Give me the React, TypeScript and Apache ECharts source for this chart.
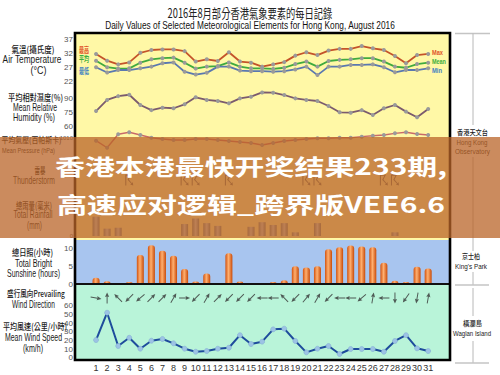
import React, { useEffect, useRef } from "react";
import * as echarts from "echarts";

// ---------------- data ----------------
const days = ["1","2","3","4","5","6","7","8","9","10","11","12","13","14","15","16","17","18","19","20","21","22","23","24","25","26","27","28","29","30","31"];
const tempMax = [31.7,29.3,28.0,28.7,32.1,33.1,33.3,33.3,32.7,29.0,29.8,29.2,32.3,29.0,28.6,27.2,28.0,28.8,31.1,32.3,31.3,32.9,33.5,33.5,34.5,33.7,33.1,31.0,28.4,31.3,31.7];
const tempMean = [29.3,27.0,26.5,26.6,28.6,29.8,30.2,30.4,28.6,26.5,27.2,27.4,28.7,27.2,26.6,26.6,26.4,26.8,28.1,29.0,27.2,29.2,29.6,29.8,30.2,30.2,29.0,27.2,26.8,28.1,28.6];
const tempMin = [27.0,25.1,26.0,26.0,26.6,27.2,28.4,28.7,25.4,24.4,25.0,27.2,27.2,25.8,25.6,25.6,25.4,25.6,26.2,27.2,24.2,27.2,27.2,27.8,27.8,28.0,27.0,25.2,26.0,26.0,26.6];
const humidity = [76,87.9,92,93.5,82.5,77,79.6,79,83.2,90.7,87.9,86.8,84.3,89.6,91.4,96,95.7,93.2,89.6,87.9,86.8,81.4,74.7,74.3,77,71.8,79,82.5,75.4,69.3,78.2];
const pressure = [1008.2,1003.5,1012.5,1013.8,1012,1010.2,1009.3,1008.7,1008.7,1009.3,1009.3,1008.7,1008,1007.3,1006.7,1005.3,1006.7,1008,1008.7,1009.3,1009.8,1009.8,1010.2,1010.2,1010.9,1011.5,1012,1013.1,1013.8,1012.7,1012];
const thunder = [0,0,0,1,0,0,0,0,1,1,0,0,1,0,0,0,0,0,0,1,1,0,0,0,0,0,1,1,0,0,0];
const rainfall = [42,16,18,0,0,0,0,0,26,38,28,22,0,0,20,30,24,28,8,0,28,0,0,0,0,0,0,8,0,0,0];
const sunshine = [1.8,0.8,0,0.6,8.3,11.1,9.5,8.1,4.3,0.7,3.0,0.2,8.8,0.7,0.3,0,0.6,1.1,5.1,4.7,5.1,9.9,10.5,11.0,10.7,10.5,6.1,0.9,0.6,4.9,4.4];
const windDir = [100,0,315,225,230,45,45,30,90,225,30,45,225,225,225,270,270,315,225,40,30,225,270,270,230,10,270,180,215,190,10];
const windSpeed = [20.4,51.9,13.5,23,10.4,19.6,21.6,16.6,10.4,6.9,7.7,10.4,11.5,26,15.8,18.5,32.7,33.5,19.3,6.2,10.4,13.5,4.3,10,10,10,6.9,19.3,26,10.8,7.7];

const title1 = "2016年8月部分香港氣象要素的每日記錄";
const title2 = "Daily Values of Selected Meteorological Elements for Hong Kong, August 2016";
const banner1 = "香港本港最快开奖结果233期,";
const banner2 = "高速应对逻辑_跨界版VEE6.6";

// ---------------- helpers ----------------
const NARROW = "'Liberation Sans Narrow', 'Liberation Sans', Arial, sans-serif";
const SANS = "'Liberation Sans', Arial, sans-serif";
const CJK = "'Noto Sans CJK TC', sans-serif";

let ctx: CanvasRenderingContext2D | null = null;
function measure(text: string, font: string) {
  if (!ctx) ctx = document.createElement("canvas").getContext("2d");
  ctx!.font = font;
  return ctx!.measureText(text).width || 1;
}

function fitText(text: string, cx: number, cy: number, w: number, o: any) {
  const size = o.size || 10;
  const weight = o.weight || "normal";
  const family = o.family || SANS;
  const font = `${weight} ${size}px ${family}`;
  const mw = measure(text, font);
  const align = o.align || "center";
  return {
    type: "text",
    x: cx,
    y: cy,
    scaleX: w / mw,
    z: o.z ?? 10,
    style: {
      text,
      font,
      fill: o.color || "#222",
      textAlign: align,
      textVerticalAlign: "middle",
      ...(o.extra || {}),
    },
  };
}

const GL = 90.5;
const GR = 66.3;

export default function App() {
  const ref = useRef<HTMLDivElement>(null);
  useEffect(() => {
    const chart = echarts.init(ref.current!, null, { renderer: "svg" });

    const grids = [
      { top: 39, height: 42.3 },   // temp
      { top: 98, height: 28 },     // humidity
      { top: 138, height: 30 },    // pressure
      { top: 170, height: 20 },    // thunder
      { top: 190, height: 46 },    // rain
      { top: 240, height: 44 },    // sunshine
      { top: 288, height: 20 },    // wind dir
      { top: 305.7, height: 52 },  // wind speed
    ].map((g) => ({ left: GL, right: GR, top: g.top, height: g.height, containLabel: false }));

    const xAxis = grids.map((_, i) => ({
      type: "category",
      gridIndex: i,
      data: days,
      boundaryGap: true,
      axisLine: { show: false },
      axisTick: { show: false },
      splitLine: { show: false },
      axisLabel: i === 7
        ? { show: true, interval: 0, fontSize: 9, color: "#333", fontFamily: NARROW, margin: 6 }
        : { show: false },
    }));

    const yl = { fontSize: 8, color: "#555", fontFamily: NARROW, margin: 17.5 };
    const yBase = { axisLine: { show: false }, axisTick: { show: false }, splitLine: { show: false } };
    const yAxis: any[] = [
      { ...yBase, type: "value", gridIndex: 0, min: 22, max: 37, interval: 5, axisLabel: yl },
      { ...yBase, type: "value", gridIndex: 1, min: 60, max: 90, interval: 15, axisLabel: yl },
      { ...yBase, type: "value", gridIndex: 2, min: 990, max: 1010, interval: 20,
        axisLabel: { ...yl, fontSize: 6, formatter: (v: number) => (v === 1010 ? "1010" : "") } },
      { ...yBase, type: "value", gridIndex: 3, min: 0, max: 2, show: false },
      { ...yBase, type: "value", gridIndex: 4, min: 0, max: 100, interval: 50,
        axisLabel: { ...yl, fontSize: 6, formatter: (v: number) => (v === 0 ? "0" : "") } },
      { ...yBase, type: "value", gridIndex: 5, min: 0, max: 12.57, interval: 5,
        axisLabel: { ...yl, showMaxLabel: false } },
      { ...yBase, type: "value", gridIndex: 6, min: 0, max: 2, show: false },
      { ...yBase, type: "value", gridIndex: 7, min: 0, max: 60, interval: 10, axisLabel: yl },
    ];

    const lineS = (data: number[], idx: number, color: string, width = 1.8) => ({
      type: "line",
      xAxisIndex: idx,
      yAxisIndex: idx,
      data,
      clip: false,
      symbol: "circle",
      symbolSize: 4,
      itemStyle: { color: "#9a9a9a" },
      lineStyle: { color, width },
      z: 3,
    });

    const series: any[] = [
      lineS(tempMax, 0, "#C4532A"),
      lineS(tempMean, 0, "#3FAA3F"),
      lineS(tempMin, 0, "#5A78B0"),
      lineS(humidity, 1, "#7B5B6E"),
      lineS(pressure, 2, "#C86A6A", 1.4),
      {
        type: "scatter",
        xAxisIndex: 3,
        yAxisIndex: 3,
        data: thunder.map((t, i) => (t ? [i, 1] : null)).filter(Boolean),
        symbol: "path://M0,0 L1.2,0 L1.2,12 L0,12 Z M1.2,0 L7,0 L4,5.5 L7.5,9.5 L8.5,8.2 L9,12 L5.5,11 L6.8,10.2 L2.6,5.6 L5,1.3 L1.2,1.3 Z",
        symbolSize: [8, 11],
        itemStyle: { color: "#555" },
        z: 3,
      },
      {
        type: "bar",
        xAxisIndex: 4,
        yAxisIndex: 4,
        data: rainfall,
        barWidth: 7,
        itemStyle: {
          color: new echarts.graphic.LinearGradient(0, 0, 1, 0, [
            { offset: 0, color: "#6f7b80" },
            { offset: 0.5, color: "#c9d2d6" },
            { offset: 1, color: "#6a767b" },
          ]),
        },
        z: 3,
      },
      {
        type: "bar",
        xAxisIndex: 5,
        yAxisIndex: 5,
        data: sunshine,
        barWidth: 7,
        itemStyle: {
          borderRadius: [3, 3, 0, 0],
          color: new echarts.graphic.LinearGradient(0, 0, 1, 0, [
            { offset: 0, color: "#D2520E" },
            { offset: 0.45, color: "#FFB070" },
            { offset: 1, color: "#C84A08" },
          ]),
        },
        z: 3,
      },
      {
        type: "scatter",
        xAxisIndex: 6,
        yAxisIndex: 6,
        data: windDir.map((deg, i) => ({ value: [i, 1], symbolRotate: -deg })),
        symbol: "path://M-0.7,10 L0.7,10 L0.7,3.6 L3,4.2 L0,0 L-3,4.2 L-0.7,3.6 Z",
        symbolSize: [7, 11],
        symbolKeepAspect: true,
        itemStyle: { color: "#333" },
        z: 3,
      },
      {
        type: "line",
        xAxisIndex: 7,
        yAxisIndex: 7,
        data: windSpeed,
        clip: false,
        symbol: "circle",
        symbolSize: 5,
        itemStyle: { color: "#9CC3E4", borderColor: "#7fa8d0", borderWidth: 0.5 },
        lineStyle: { color: "#1E4C9C", width: 2 },
        z: 3,
      },
    ];

    const lab = (t: string, cx: number, cy: number, w: number, cjk = false, size?: number) =>
      fitText(t, cx, cy, w, {
        size: size || (cjk ? 9 : 10),
        family: cjk ? CJK : SANS,
        weight: cjk ? "500" : "normal",
        color: "#1a1a1a",
        z: 10,
      });

    const vline = (x: number, y1: number, y2: number) => ({
      type: "line", z: 10, shape: { x1: x, y1, x2: x, y2 }, style: { stroke: "#b8b8b8", lineWidth: 1 },
    });
    const hline = (x1: number, x2: number, y: number) => ({
      type: "line", z: 10, shape: { x1, y1: y, x2, y2: y }, style: { stroke: "#c4c4c4", lineWidth: 1.5 },
    });

    const shadow = { shadowColor: "rgba(40,20,0,0.75)", shadowBlur: 3, shadowOffsetX: 1, shadowOffsetY: 1 };

    const graphic: any[] = [
      { type: "rect", z: 0, shape: { x: 75, y: 33, width: 375, height: 207 }, style: { fill: "#FFF8A6" } },
      { type: "rect", z: 0, shape: { x: 75, y: 240, width: 375, height: 44 }, style: { fill: "#A8C5EF" } },
      { type: "rect", z: 0, shape: { x: 75, y: 284, width: 375, height: 76 }, style: { fill: "#B9F4D9" } },
      { type: "line", z: 40, shape: { x1: 75, y1: 284, x2: 450, y2: 284 }, style: { stroke: "#111", lineWidth: 2 } },
      { type: "rect", z: 40, shape: { x: 75, y: 33, width: 375, height: 327 }, style: { fill: "none", stroke: "#000", lineWidth: 2.6 } },

      // titles
      fitText(title1, 250, 12, 165, { size: 13, family: "'Noto Sans CJK TC', serif", weight: "normal", color: "#222" }),
      fitText(title2, 250, 25, 290, { size: 11, family: SANS, color: "#111" }),

      // legend labels in plot
      fitText("最高", 84, 49, 10, { size: 8, family: CJK, weight: "bold", color: "#E0522A", z: 20 }),
      fitText("平均", 84, 58.5, 10, { size: 8, family: CJK, weight: "bold", color: "#3DAE3D", z: 20 }),
      fitText("最低", 84, 70.5, 10, { size: 8, family: CJK, weight: "bold", color: "#3F7EC2", z: 20 }),
      fitText("Max", 432, 52.7, 11, { size: 7, family: SANS, weight: "bold", color: "#E0522A", align: "left", z: 20 }),
      fitText("Mean", 432, 61.5, 14, { size: 7, family: SANS, weight: "bold", color: "#3DAE3D", align: "left", z: 20 }),
      fitText("Min", 432, 70, 10, { size: 7, family: SANS, weight: "bold", color: "#3F7EC2", align: "left", z: 20 }),

      // left labels
      lab("氣溫(攝氏度)", 33, 49, 43, true),
      lab("Air Temperature", 32, 59.5, 59),
      lab("(°C)", 38.5, 70, 16),
      lab("平均相對濕度(%)", 35.5, 97.3, 55, true),
      lab("Mean Relative", 35, 107.7, 44),
      lab("Humidity (%)", 34, 117.7, 42),
      lab("平均氣壓(百帕斯卡)", 31.5, 139.5, 60, true, 8),
      lab("Mean Pressure (hPa)", 28.5, 150, 53, false, 8),
      lab("雷暴", 40, 170, 11, true),
      lab("Thunderstorm", 34, 180, 42),
      lab("總雨量(毫米)", 34, 205, 36, true),
      lab("Total Rainfall", 33, 214.5, 39),
      lab("(mm)", 34.5, 225, 15),
      lab("總日照(小時)", 32.5, 251.7, 41, true),
      lab("Total Bright", 33.5, 263.3, 37),
      lab("Sunshine (hours)", 33.5, 274, 53),
      lab("盛行風向Prevailing", 36, 293.3, 58, true),
      lab("Wind Direction", 33.5, 304.3, 43),
      lab("平均風速(公里/小時)", 35, 326, 64, true),
      lab("Mean Wind Speed", 33.5, 337.3, 57),
      lab("(km/h)", 33, 348.3, 20),

      // right side stations
      hline(455, 490, 33.5),
      vline(473, 33.5, 125),
      lab("香港天文台", 472.5, 132, 31, true, 7),
      lab("Hong Kong", 472, 142.7, 31, false, 8),
      lab("Observatory", 472.5, 151, 35, false, 8),
      vline(473, 157, 251),
      lab("京士柏", 471, 256, 18, true, 7),
      lab("King's Park", 471, 266, 32, false, 8),
      vline(473, 272, 285),
      hline(455, 489, 285),
      vline(473, 288, 316),
      lab("橫瀾島", 472.5, 323, 19, true, 7),
      lab("Waglan Island", 472, 334, 38, false, 8),
      vline(473, 341, 363),
      hline(455, 489, 363),

      // overlay banner
      { type: "rect", z: 50, shape: { x: 0, y: 137, width: 500, height: 101 }, style: { fill: "rgba(185,100,40,0.75)" } },
      fitText(banner1, 55, 166, 392, {
        size: 22, family: "'Noto Sans CJK SC', sans-serif", weight: "bold", color: "#ffffff", align: "left", z: 60, extra: shadow,
      }),
      fitText(banner2, 57, 203, 388, {
        size: 22, family: "'Noto Sans CJK SC', sans-serif", weight: "bold", color: "#ffffff", align: "left", z: 60, extra: shadow,
      }),
    ];

    chart.setOption({
      animation: false,
      backgroundColor: "#ffffff",
      grid: grids,
      xAxis,
      yAxis,
      series,
      graphic: { elements: graphic },
    });
    return () => chart.dispose();
  }, []);
  return (
    <div
      ref={ref}
      style={{ position: "fixed", left: 0, top: 0, width: 500, height: 375, background: "#fff" }}
    />
  );
}
